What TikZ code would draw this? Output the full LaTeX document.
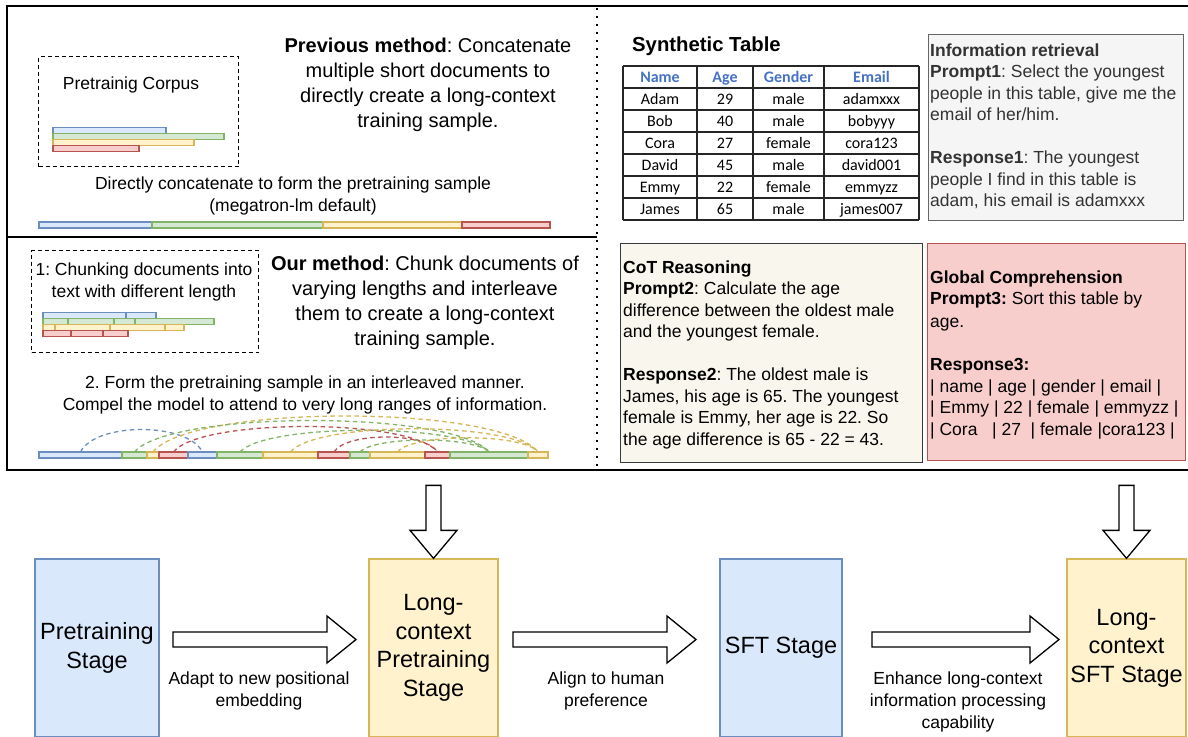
\documentclass[tikz,border=0pt]{standalone}
\usepackage{fontspec}
\setmainfont{Liberation Sans}
\newfontfamily\tabfont{Carlito}
\usetikzlibrary{calc}
\frenchspacing
\definecolor{bluef}{HTML}{DAE8FC}\definecolor{bluel}{HTML}{6C8EBF}
\definecolor{greenf}{HTML}{D5E8D4}\definecolor{greenl}{HTML}{82B366}
\definecolor{yellowf}{HTML}{FFF2CC}\definecolor{yellowl}{HTML}{D6B656}
\definecolor{redf}{HTML}{F8CECC}\definecolor{redl}{HTML}{B85450}
\definecolor{greyf}{HTML}{F5F5F5}\definecolor{greyl}{HTML}{666666}
\definecolor{creamf}{HTML}{F9F7ED}\definecolor{creaml}{HTML}{36393D}
\definecolor{hdrblue}{HTML}{4472C4}
\definecolor{txtgrey}{HTML}{333333}
\newcommand\myfs[2]{\fontsize{#1}{#2}\selectfont}
\newcommand\chunk[5]{\node[chunk=#2, minimum width={#4-#3}, anchor=north west] (#1) at (#3,#5) {};}
\tikzset{
  frame/.style={line width=1.5pt},
  dbox/.style={draw, dash pattern=on 4pt off 3pt, line width=1.3pt},
  chunk/.style={rectangle, draw=#1l, fill=#1f, line width=1.2pt, inner sep=0pt, outer sep=0pt, minimum height=6pt},
  arcl/.style={draw=#1l, dash pattern=on 4.5pt off 3.5pt, line width=1.3pt},
  stage/.style={rectangle, draw=#1l, fill=#1f, line width=1.3pt, inner sep=2pt, align=center, font=\myfs{23.5}{28.5}, minimum height=178pt},
  lbl/.style={align=center, font=\myfs{17.5}{22}, inner sep=0pt},
  bigtxt/.style={align=center, font=\myfs{20}{25}, inner sep=0pt, anchor=north},
  boxtxt/.style={align=left, font=\myfs{17.5}{21.5}, inner sep=0pt, anchor=north west},
  tline/.style={line width=1.4pt, draw=black!85},
  tcell/.style={font=\tabfont\myfs{16}{18}, inner sep=0pt, anchor=base},
  thdr/.style={font=\tabfont\bfseries\myfs{16}{18}, text=hdrblue, inner sep=0pt, anchor=base},
  blk/.style={draw=black, fill=white, line width=1.3pt, line join=miter},
  pics/harrow/.style={code={\draw[blk] (0,0) -- (-29,-23.5) -- (-29,-7.5) -- (-#1,-7.5) -- (-#1,7.5) -- (-29,7.5) -- (-29,23.5) -- cycle;}},
  pics/varrow/.style={code={\draw[blk] (0,0) -- (-23.5,-28) -- (-7.5,-28) -- (-7.5,-#1) -- (7.5,-#1) -- (7.5,-28) -- (23.5,-28) -- cycle;}},
}
\begin{document}
\begin{tikzpicture}[x=1pt,y=-1pt]
\useasboundingbox (0,0) rectangle (1188,736);
\fill[white] (0,0) rectangle (1188,736);

% ---------- frame ----------
\draw[frame] (7,6) rectangle (1189,470);
\draw[frame] (7,237) -- (597,237);
\draw[line width=2pt, dash pattern=on 2pt off 6pt] (597,8) -- (597,470);

% ---------- previous method ----------
\node[dbox, minimum width=200pt, minimum height=110pt, anchor=north west, inner sep=0pt] (corpus) at (38,56) {};
\node[font=\myfs{17.5}{22}, inner sep=0pt, anchor=north] (corpustxt) at (131,77) {Pretrainig Corpus};
\chunk{c1}{blue}{53}{166}{127.5}
\chunk{c2}{green}{53}{224}{133.5}
\chunk{c3}{yellow}{53}{194}{139.5}
\chunk{c4}{red}{53}{139}{145.5}
\node[bigtxt] (prevtxt) at (428,38) {\textbf{Previous method}: Concatenate\\multiple short documents to\\directly create a long-context\\training sample.};
\node[lbl, anchor=north] (concattxt) at (293,177) {Directly concatenate to form the pretraining sample\\(megatron-lm default)};
\chunk{p1}{blue}{39}{152}{222}
\chunk{p2}{green}{152}{323}{222}
\chunk{p3}{yellow}{323}{462}{222}
\chunk{p4}{red}{462}{550}{222}

% ---------- our method ----------
\node[dbox, minimum width=227pt, minimum height=102pt, anchor=north west, inner sep=0pt] (chunkbox) at (31,250) {};
\node[lbl, anchor=north] (chunktxt) at (144,263) {1: Chunking documents into\\text with different length};
\chunk{b1}{blue}{43}{126}{312.5}
\chunk{b2}{blue}{126}{156}{312.5}
\chunk{g1}{green}{43}{68}{318.5}
\chunk{g2}{green}{68}{114}{318.5}
\chunk{g3}{green}{114}{135}{318.5}
\chunk{g4}{green}{135}{214}{318.5}
\chunk{y1}{yellow}{43}{55}{324.5}
\chunk{y2}{yellow}{55}{110}{324.5}
\chunk{y3}{yellow}{110}{165}{324.5}
\chunk{y4}{yellow}{165}{184}{324.5}
\chunk{r1}{red}{43}{71}{330.5}
\chunk{r2}{red}{71}{103}{330.5}
\chunk{r3}{red}{103}{128}{330.5}
\node[bigtxt] (ourtxt) at (425,256) {\textbf{Our method}: Chunk documents of\\varying lengths and interleave\\them to create a long-context\\training sample.};
\node[lbl, anchor=north] (formtxt) at (305,376) {2. Form the pretraining sample in an interleaved manner.\\Compel the model to attend to very long ranges of information.};

% interleaved sample
\chunk{i1}{blue}{39}{122}{452}
\chunk{i2}{green}{122}{147}{452}
\chunk{i3}{yellow}{147}{159}{452}
\chunk{i4}{red}{159}{188}{452}
\chunk{i5}{blue}{188}{217}{452}
\chunk{i6}{green}{217}{263}{452}
\chunk{i7}{yellow}{263}{318}{452}
\chunk{i8}{red}{318}{350}{452}
\chunk{i9}{green}{350}{370}{452}
\chunk{i10}{yellow}{370}{425}{452}
\chunk{i11}{red}{425}{450}{452}
\chunk{i12}{green}{450}{528}{452}
\chunk{i13}{yellow}{528}{548}{452}
\draw[arcl=blue] (i1.north) .. controls +(15,-30) and +(-15,-30) .. (i5.north);
\draw[arcl=yellow] (i3.north) .. controls +(38,-48) and +(-38,-48) .. (i13.north);
\draw[arcl=green] (i2.north) .. controls +(35,-42) and +(-35,-42) .. (i12.north);
\draw[arcl=red] (i4.north) .. controls +(26,-34) and +(-26,-34) .. (i11.north);
\draw[arcl=green] (i6.north) .. controls +(25,-29) and +(-25,-29) .. (i12.north);
\draw[arcl=yellow] (i7.north) .. controls +(25,-31) and +(-25,-31) .. (i13.north);
\draw[arcl=red] (i8.north) .. controls +(12,-20) and +(-12,-20) .. (i11.north);
\draw[arcl=green] (i9.north) .. controls +(15,-16) and +(-15,-16) .. (i12.north);
\draw[arcl=yellow] (i10.north) .. controls +(15,-19) and +(-15,-19) .. (i13.north);

% ---------- synthetic table ----------
\node[font=\bfseries\myfs{20.3}{23}, inner sep=0pt, anchor=north west] (sttitle) at (632,36.5) {Synthetic Table};
\foreach \xx in {623,697,753,824,919} \draw[tline] (\xx,66) -- (\xx,220);
\foreach \yy in {66,88,110,132,154,176,198,220} \draw[tline] (623,\yy) -- (919,\yy);
\node[thdr] (hname) at (660,82.5) {Name};
\node[thdr] (hage) at (725,82.5) {Age};
\node[thdr] (hgender) at (788.5,82.5) {Gender};
\node[thdr] (hemail) at (871.5,82.5) {Email};
\foreach \cA/\cB/\cC/\cD [count=\i] in {Adam/29/male/adamxxx, Bob/40/male/bobyyy, Cora/27/female/cora123, David/45/male/david001, Emmy/22/female/emmyzz, James/65/male/james007}{
  \pgfmathsetmacro\yb{82.5+22*\i}
  \node[tcell] (ta\i) at (660,\yb) {\cA};
  \node[tcell] (tb\i) at (725,\yb) {\cB};
  \node[tcell] (tc\i) at (788.5,\yb) {\cC};
  \node[tcell] (td\i) at (871.5,\yb) {\cD};
}

% ---------- task boxes ----------
\node[rectangle, draw=greyl, fill=greyf, line width=1.2pt, minimum width=255pt, minimum height=186pt, anchor=north west, inner sep=0pt] (irbox) at (928,34) {};
\node[boxtxt, text=txtgrey] (irtxt) at (930,43.5) {\textbf{Information retrieval}\\\textbf{Prompt1}: Select the youngest\\people in this table, give me the\\email of her/him.\\[21.5pt]\textbf{Response1}: The youngest\\people I find in this table is\\adam, his email is adamxxx};

\node[rectangle, draw=creaml, fill=creamf, line width=1.2pt, minimum width=302pt, minimum height=219pt, anchor=north west, inner sep=0pt] (cotbox) at (620,243) {};
\node[boxtxt] (cottxt) at (623,260.5) {\textbf{CoT Reasoning}\\\textbf{Prompt2}: Calculate the age\\difference between the oldest male\\and the youngest female.\\[21.5pt]\textbf{Response2}: The oldest male is\\James, his age is 65. The youngest\\female is Emmy, her age is 22. So\\the age difference is 65 - 22 = 43.};

\node[rectangle, draw=redl, fill=redf, line width=1.2pt, minimum width=258pt, minimum height=217pt, anchor=north west, inner sep=0pt] (gcbox) at (927,243) {};
\node[boxtxt] (gctxt) at (930,270.5) {\textbf{Global Comprehension}\\\textbf{Prompt3:} Sort this table by\\[1.5pt]age.\\[21.5pt]\textbf{Response3:}\\| name | age | gender | email |\\| Emmy | 22 | female | emmyzz |\\| Cora\ \ \ | 27\ \ | female |cora123 |};

% ---------- stages ----------
\node[stage=blue, minimum width=124pt] (pre) at (97,648) {Pretraining\\Stage};
\node[stage=yellow, minimum width=129pt] (lcp) at (433.5,648) {Long-\\context\\Pretraining\\Stage};
\node[stage=blue, minimum width=122pt] (sft) at (781,648) {SFT Stage};
\node[stage=yellow, minimum width=119pt] (lcs) at (1126.5,648) {Long-\\context\\SFT Stage};

\pic at (356,639.5) {harrow=183};
\pic at (696,639.5) {harrow=183};
\pic at (1059,639.5) {harrow=187};
\pic at (lcp.north) {varrow=73};
\pic at (lcs.north) {varrow=73};

\node[lbl] (l1) at (259,691) {Adapt to new positional\\embedding};
\node[lbl] (l2) at (606,691) {Align to human\\preference};
\node[lbl] (l3) at (958,702) {Enhance long-context\\information processing\\capability};
\end{tikzpicture}
\end{document}
